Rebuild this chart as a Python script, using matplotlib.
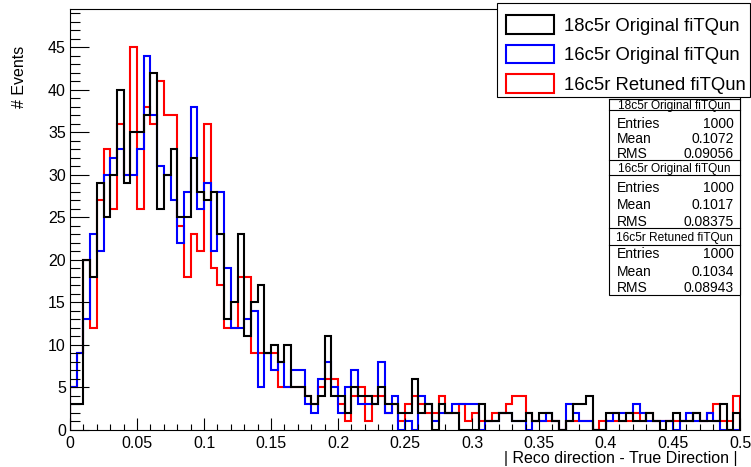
import numpy as np
import matplotlib.pyplot as plt
from matplotlib.patches import Patch, Rectangle
from matplotlib.lines import Line2D
from matplotlib.ticker import MultipleLocator

plt.rcParams['font.family'] = ['Liberation Sans', 'DejaVu Sans']

# 100 bins from 0 to 0.5
edges = np.linspace(0, 0.5, 101)

counts_18c5r_orig = [
    3, 3, 20, 18, 29, 25, 30, 40, 29, 35,
    35, 37, 42, 26, 30, 33, 25, 25, 32, 28,
    27, 28, 23, 13, 15, 23, 11, 15, 17, 9,
    10, 8, 10, 5, 5, 4, 3, 4, 11, 4,
    4, 2, 5, 4, 4, 3, 5, 3, 3, 2,
    2, 6, 2, 3, 0, 3, 2, 2, 0, 0,
    0, 3, 1, 1, 2, 2, 1, 1, 2, 1,
    2, 2, 1, 0, 1, 3, 3, 4, 0, 0,
    2, 2, 1, 2, 1, 1, 2, 1, 0, 1,
    2, 1, 1, 2, 1, 1, 1, 3, 0, 2]

counts_16c5r_orig = [
    5, 9, 13, 23, 21, 30, 32, 33, 30, 30,
    33, 44, 37, 31, 30, 27, 22, 28, 38, 26,
    29, 21, 28, 19, 12, 12, 13, 14, 5, 9,
    7, 8, 5, 7, 7, 3, 2, 6, 8, 5,
    2, 5, 7, 3, 3, 3, 8, 2, 4, 0,
    1, 0, 4, 3, 1, 2, 2, 3, 3, 3,
    3, 0, 1, 1, 2, 2, 1, 1, 0, 1,
    1, 2, 1, 0, 3, 2, 1, 1, 0, 0,
    1, 2, 2, 2, 3, 2, 1, 1, 1, 1,
    0, 1, 2, 1, 1, 2, 1, 0, 0, 0]

counts_16c5r_retuned = [
    5, 9, 20, 12, 27, 33, 26, 36, 30, 45,
    26, 38, 36, 41, 37, 37, 24, 18, 23, 21,
    36, 19, 17, 12, 12, 18, 18, 9, 9, 9,
    9, 5, 5, 5, 5, 4, 3, 5, 6, 6,
    3, 1, 4, 5, 1, 4, 4, 2, 3, 1,
    3, 4, 3, 2, 2, 4, 2, 2, 3, 1,
    2, 1, 1, 2, 2, 3, 4, 4, 2, 1,
    1, 1, 1, 0, 1, 1, 1, 1, 0, 1,
    1, 1, 1, 1, 2, 1, 2, 1, 1, 1,
    1, 1, 1, 2, 1, 2, 3, 1, 1, 4]

names = ['18c5r Original fiTQun', '16c5r Original fiTQun', '16c5r Retuned fiTQun']
colors = ['black', 'blue', 'red']
entries = [1000, 1000, 1000]
means = ['0.1072', '0.1017', '0.1034']
rms = ['0.09056', '0.08375', '0.08943']

W, H = 751, 467
fig = plt.figure(figsize=(W / 100, H / 100), dpi=100)


def fx(x):
    return x / W


def fy(y):
    return 1 - y / H


ax = fig.add_axes([fx(70), fy(430), (740 - 70) / W, (430 - 9) / H])

# draw order: red below, black on top
ax.stairs(counts_16c5r_retuned, edges, color='red', linewidth=1.5, baseline=0)
ax.stairs(counts_16c5r_orig, edges, color='blue', linewidth=1.5, baseline=0)
ax.stairs(counts_18c5r_orig, edges, color='black', linewidth=1.5, baseline=0)

ax.set_xlim(0, 0.5)
ax.set_ylim(0, 49.5)
ax.xaxis.set_minor_locator(MultipleLocator(0.01))
ax.yaxis.set_major_locator(MultipleLocator(5))
ax.yaxis.set_minor_locator(MultipleLocator(1))
xt = np.arange(0, 0.501, 0.05)
ax.set_xticks(xt)
ax.set_xticklabels(['0' if v == 0 else ('%.2f' % v).rstrip('0') for v in xt])
ax.tick_params(axis='x', which='major', direction='in', length=9, width=0.8, pad=4.5, labelsize=11.5)
ax.tick_params(axis='x', which='minor', direction='in', length=4.5, width=0.8)
ax.tick_params(axis='y', which='major', direction='in', length=14, width=0.8, pad=3, labelsize=11.5)
ax.tick_params(axis='y', which='minor', direction='in', length=7, width=0.8)
for s in ax.spines.values():
    s.set_linewidth(0.8)

fig.text(fx(738), fy(458), '| Reco direction - True Direction |', fontsize=11.5,
         ha='right', va='center')
fig.text(fx(19), fy(46), '# Events', fontsize=11.5, rotation=90, ha='center', va='top')

# legend (frame drawn separately so the rows can sit where they do in ROOT)
fig.add_artist(Rectangle((fx(497), fy(97)), (750 - 497) / W, (97 - 3) / H,
                         transform=fig.transFigure, facecolor='white',
                         edgecolor='black', linewidth=0.8))
handles = [Patch(facecolor='white', edgecolor=c, linewidth=1.5) for c in colors]
leg = fig.legend(handles, names, loc='upper left', bbox_to_anchor=(fx(500), fy(9)),
                 fontsize=13.3, frameon=False, handlelength=2.55, handleheight=1.13,
                 handletextpad=0.55, borderpad=0.35, labelspacing=0.55, borderaxespad=0)

# stats boxes
bx0, bx1 = 609, 740
fig.add_artist(Rectangle((fx(bx0), fy(295)), (bx1 - bx0) / W, (295 - 99) / H,
                         transform=fig.transFigure, facecolor='white',
                         edgecolor='black', linewidth=0.8))
sections = [(99, 110, [122, 137.5, 153]), (160, 175, [187, 203.5, 220]), (228, 245, [253, 270, 287])]
for i, (t0, t1, rows_y) in enumerate(sections):
    for yy in [t0, t1]:
        fig.add_artist(Line2D([fx(bx0), fx(bx1)], [fy(yy), fy(yy)],
                              transform=fig.transFigure, color='black', linewidth=0.8))
    fig.text(fx((bx0 + bx1) / 2), fy((t0 + t1) / 2), names[i], fontsize=8.6,
             ha='center', va='center_baseline')
    rows = [('Entries', str(entries[i])), ('Mean', means[i]), ('RMS', rms[i])]
    for (k, v), yy in zip(rows, rows_y):
        fig.text(fx(617), fy(yy), k, fontsize=10, ha='left', va='center_baseline')
        fig.text(fx(734), fy(yy), v, fontsize=10, ha='right', va='center_baseline')

fig.savefig('out.png', dpi=100)
